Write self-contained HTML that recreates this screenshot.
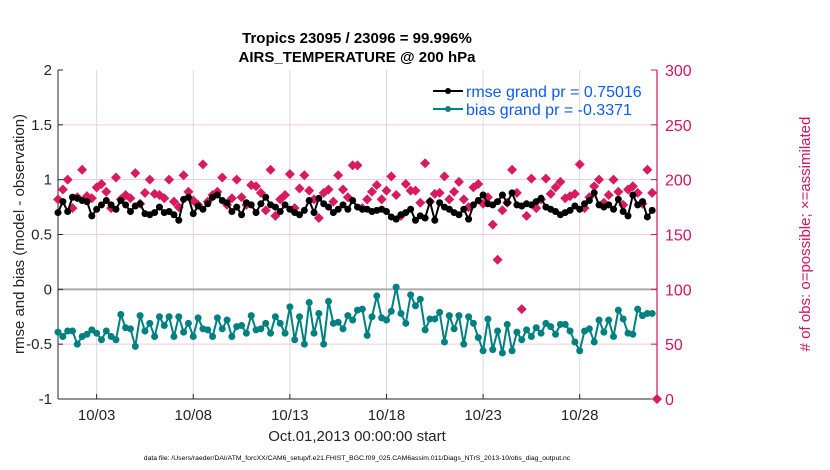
<!DOCTYPE html>
<html><head><meta charset="utf-8"><style>
body{margin:0;background:#fff;}
svg{display:block;font-family:"Liberation Sans",Arial,sans-serif;}
</style></head><body>
<svg id="chart" width="830" height="470" xmlns="http://www.w3.org/2000/svg"></svg>
<script>
const dayTicks=[2,7,12,17,22,27];
const dayTickLabels=["10/03","10/08","10/13","10/18","10/23","10/28"];
const leftTicks=[-1,-0.5,0,0.5,1,1.5,2];
const leftTickLabels=["-1","-0.5","0","0.5","1","1.5","2"];
const rightTicks=[0,50,100,150,200,250,300];
const rmse=[0.70,0.80,0.71,0.84,0.83,0.81,0.80,0.67,0.73,0.77,0.81,0.77,0.73,0.81,0.77,0.71,0.76,0.78,0.69,0.68,0.70,0.75,0.70,0.71,0.68,0.63,0.82,0.84,0.69,0.76,0.73,0.78,0.84,0.86,0.81,0.79,0.71,0.75,0.68,0.79,0.77,0.70,0.78,0.84,0.77,0.75,0.71,0.77,0.73,0.70,0.68,0.72,0.81,0.70,0.83,0.78,0.75,0.70,0.73,0.77,0.73,0.81,
0.75,0.73,0.73,0.71,0.72,0.73,0.71,0.66,0.64,0.68,0.70,0.73,0.63,0.67,0.65,0.80,0.63,0.79,0.75,0.73,0.70,0.68,0.73,0.64,0.77,0.81,0.86,0.78,0.77,0.80,0.86,0.79,0.88,0.77,0.76,0.78,0.77,0.80,0.83,0.75,0.73,0.71,0.68,0.70,0.72,0.76,0.73,0.78,0.81,0.88,0.77,0.75,0.77,0.73,0.82,0.71,0.67,0.86,0.77,0.80,0.66,0.72];
const bias=[-0.39,-0.43,-0.38,-0.38,-0.50,-0.43,-0.41,-0.37,-0.40,-0.46,-0.38,-0.43,-0.46,-0.23,-0.35,-0.36,-0.52,-0.24,-0.38,-0.31,-0.43,-0.25,-0.33,-0.25,-0.43,-0.25,-0.39,-0.31,-0.43,-0.26,-0.36,-0.37,-0.43,-0.26,-0.36,-0.28,-0.43,-0.34,-0.33,-0.40,-0.24,-0.37,-0.36,-0.31,-0.40,-0.25,-0.31,-0.40,-0.16,-0.46,-0.25,-0.50,-0.12,-0.40,-0.22,-0.50,-0.11,-0.31,-0.30,-0.36,-0.24,-0.28,
-0.19,-0.18,-0.42,-0.25,-0.06,-0.26,-0.28,-0.20,0.02,-0.22,-0.31,-0.05,-0.15,-0.09,-0.37,-0.27,-0.27,-0.21,-0.48,-0.24,-0.36,-0.24,-0.50,-0.25,-0.31,-0.44,-0.56,-0.27,-0.55,-0.38,-0.58,-0.32,-0.56,-0.39,-0.46,-0.37,-0.43,-0.35,-0.40,-0.31,-0.34,-0.41,-0.32,-0.32,-0.38,-0.48,-0.56,-0.38,-0.36,-0.48,-0.28,-0.39,-0.28,-0.43,-0.19,-0.27,-0.40,-0.41,-0.18,-0.24,-0.22,-0.22];
const nobs=[182,191,200,174,184,209,185,183,193,196,189,174,202,182,186,183,206,178,188,200,187,186,183,200,180,175,204,189,181,177,214,180,186,189,202,177,183,200,184,177,195,194,188,172,209,167,182,186,205,174,192,204,190,182,165,188,191,180,204,191,184,213,
213,174,182,189,195,182,190,203,186,167,196,190,190,179,215,180,187,188,203,182,189,198,182,175,193,196,178,184,159,127,172,179,209,188,82,167,201,174,182,201,187,193,198,183,185,187,214,174,184,194,200,179,186,200,189,177,191,194,188,178,209,188,0];

const svg=document.getElementById('chart');
const NS='http://www.w3.org/2000/svg';
const L=58,R=657,T=70,B=399;
const xS=d=>L+(d/31)*(R-L);
const yL=v=>B-(v+1)/3*(B-T);
const yR=v=>B-v/300*(B-T);
function mk(tag,attrs,parent){const e=document.createElementNS(NS,tag);for(const k in attrs)e.setAttribute(k,attrs[k]);(parent||svg).appendChild(e);return e;}
function txt(s,attrs,parent){const e=mk('text',attrs,parent);e.textContent=s;return e;}

const grid=mk('g',{});


dayTicks.forEach(d=>{mk('line',{x1:xS(d),x2:xS(d),y1:T,y2:B,stroke:'#d9d9d9','stroke-width':1},grid);});
rightTicks.forEach(v=>{if(v>0&&v<300&&v!==100)mk('line',{x1:L,x2:R,y1:yR(v),y2:yR(v),stroke:'#f5c6d8','stroke-width':1},grid);});
const zl=mk('line',{x1:L,x2:R,y1:yL(0),y2:yL(0),stroke:'#aaaaaa','stroke-width':2});



const ax=mk('g',{});


mk('line',{x1:L,x2:L,y1:T,y2:B,stroke:'#262626','stroke-width':1},ax);
mk('line',{x1:L,x2:R,y1:B,y2:B,stroke:'#262626','stroke-width':1},ax);
mk('line',{x1:R,x2:R,y1:T,y2:B,stroke:'#d4145a','stroke-width':1.2},ax);
leftTicks.forEach((v,i)=>{
  mk('line',{x1:L,x2:L+5,y1:yL(v),y2:yL(v),stroke:'#262626'},ax);
  const t=txt(leftTickLabels[i],{x:L-6,y:yL(v)+5,'text-anchor':'end','font-size':15,fill:'#262626'},ax);
  
  
});
rightTicks.forEach(v=>{
  mk('line',{x1:R-6,x2:R,y1:yR(v),y2:yR(v),stroke:'#d4145a'},ax);
  const t=txt(String(v),{x:R+8,y:yR(v)+6,'font-size':16,fill:'#d4145a'},ax);
  
  
});
dayTicks.forEach((d,i)=>{
  mk('line',{x1:xS(d),x2:xS(d),y1:B-5,y2:B,stroke:'#262626'},ax);
  const t=txt(dayTickLabels[i],{x:xS(d),y:B+21,'text-anchor':'middle','font-size':15,fill:'#262626'},ax);
  
  
});

const pts=(arr,yf)=>arr.map((v,i)=>xS(i*0.25)+','+yf(v)).join(' ');
const gd=mk('g',{});


nobs.forEach((v,i)=>{const x=xS(i*0.25),y=yR(v);mk('polygon',{points:`${x},${y-5} ${x+5},${y} ${x},${y+5} ${x-5},${y}`,fill:'#d81b60'},gd);});
function series(arr,col,name){
  const g=mk('g',{});
  
  
  mk('polyline',{points:pts(arr,yL),fill:'none',stroke:col,'stroke-width':2},g);
  arr.forEach((v,i)=>mk('circle',{cx:xS(i*0.25),cy:yL(v),r:3.5,fill:col},g));
}
series(rmse,'#000000','rmse-series');
series(bias,'#008080','bias-series');

const lg=mk('g',{});


mk('line',{x1:433,x2:463,y1:91,y2:91,stroke:'#000','stroke-width':2},lg);
mk('circle',{cx:448,cy:91,r:3,fill:'#000'},lg);
mk('line',{x1:433,x2:463,y1:109,y2:109,stroke:'#008080','stroke-width':2},lg);
mk('circle',{cx:448,cy:109,r:3,fill:'#008080'},lg);
txt('rmse grand pr = 0.75016',{x:466,y:97,'font-size':16,fill:'#0b5ced'},lg);
txt('bias grand pr = -0.3371',{x:466,y:115,'font-size':16,fill:'#0b5ced'},lg);

const t1=txt('Tropics 23095 / 23096 = 99.996%',{x:357,y:43,'text-anchor':'middle','font-size':15,'font-weight':'bold',fill:'#000'});


const t2=txt('AIRS_TEMPERATURE @ 200 hPa',{x:357,y:62,'text-anchor':'middle','font-size':15,'font-weight':'bold',fill:'#000'});


const yl=txt('rmse and bias (model - observation)',{x:0,y:0,'text-anchor':'middle','font-size':15,fill:'#262626',transform:'translate(24,234) rotate(-90)'});


const yr=txt('# of obs: o=possible; \u00d7=assimilated',{x:0,y:0,'text-anchor':'middle','font-size':15,fill:'#d4145a',transform:'translate(810,234) rotate(-90)'});


const xl=txt('Oct.01,2013 00:00:00 start',{x:357,y:441,'text-anchor':'middle','font-size':15,fill:'#262626'});


const fn=txt('data file: /Users/raeder/DAI/ATM_forcXX/CAM6_setup/f.e21.FHIST_BGC.f09_025.CAM6assim.011/Diags_NTrS_2013-10/obs_diag_output.nc',{x:357,y:460,'text-anchor':'middle','font-size':6.8,fill:'#000'});


</script>
</body></html>
